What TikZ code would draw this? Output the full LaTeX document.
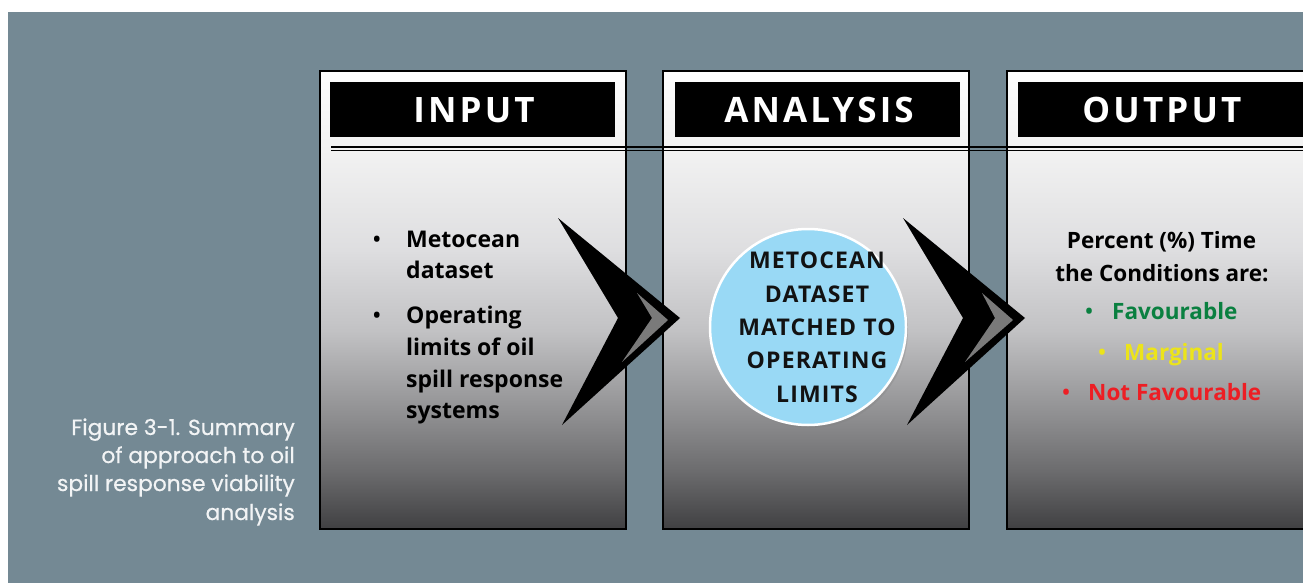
\documentclass[tikz,border=0pt]{standalone}
\usepackage{fontspec}
\setmainfont{Open Sans}
\newfontfamily\capfont{Poppins}[FakeBold=0.6]
\newfontfamily\titlefont{Open Sans}[LetterSpace=9]
\newfontfamily\circfont{Open Sans}[LetterSpace=5]
\usetikzlibrary{shadows}
\definecolor{bgslate}{RGB}{116,137,148}
\definecolor{sh0}{RGB}{64,64,66}
\definecolor{sh1}{RGB}{108,108,110}
\definecolor{sh2}{RGB}{140,140,142}
\definecolor{sh3}{RGB}{194,194,196}
\definecolor{sh4}{RGB}{222,222,224}
\definecolor{sh5}{RGB}{242,242,242}
\definecolor{sh6}{RGB}{253,253,253}
\definecolor{circblue}{RGB}{153,217,245}
\definecolor{favgreen}{RGB}{10,128,64}
\definecolor{margyellow}{RGB}{236,228,26}
\definecolor{notred}{RGB}{237,30,36}
\definecolor{chevgray}{RGB}{122,122,122}
\definecolor{captxt}{RGB}{242,244,245}
\pgfdeclareverticalshading{boxshade}{100bp}{color(0bp)=(sh0); color(25bp)=(sh0); color(31.4bp)=(sh1); color(36.9bp)=(sh2); color(46.7bp)=(sh3); color(55.5bp)=(sh4); color(66.4bp)=(sh5); color(75bp)=(sh6); color(100bp)=(sh6)}
\tikzset{
  panel/.style={draw=black, line width=2pt, shading=boxshade},
  titlebar/.style={fill=black, draw=none},
  titletxt/.style={inner sep=0pt, anchor=base, text=white, font=\titlefont\bfseries\fontsize{35}{40}\selectfont},
  bodytxt/.style={inner sep=0pt, anchor=base west, text=black, font=\bfseries\fontsize{23}{28}\selectfont},
  bullet/.style={inner sep=0pt, anchor=base, font=\bfseries\fontsize{20}{24}\selectfont},
  circtxt/.style={inner sep=0pt, anchor=base, text=black!93, font=\circfont\bfseries\fontsize{23}{27}\selectfont},
  outtxt/.style={inner sep=0pt, anchor=base, text=black, font=\bfseries\fontsize{22.5}{27}\selectfont},
  captxtstyle/.style={inner sep=0pt, anchor=base east, text=captxt, font=\capfont\fontsize{21.8}{26}\selectfont},
  chevron/.style={fill=black, draw=none},
  chevbevel/.style={fill=chevgray, draw=none},
  dblline/.style={draw=black, line width=1.4pt}
}
\begin{document}
\begin{tikzpicture}[x=1pt,y=-1pt]
\useasboundingbox (0,0) rectangle (1303,583);
\clip (0,0) rectangle (1303,583);
\fill[white] (0,0) rectangle (1303,583);
\fill[bgslate] (8,12) rectangle (1310,590);
% panels
\path[panel] (320,71) rectangle (626,529);
\path[panel] (663,71) rectangle (969,529);
\path[panel] (1007,71) rectangle (1313,529);
% title bars
\fill[titlebar] (330,82) rectangle (615,137);
\fill[titlebar] (675,82) rectangle (960,137);
\fill[titlebar] (1018,82) rectangle (1310,137);
\node[titletxt] (tin) at (474,123) {INPUT};
\node[titletxt] (tan) at (819,123) {ANALYSIS};
\node[titletxt] (tout) at (1162,123) {OUTPUT};
% double rule
\coordinate (r1a) at (331,146.8);
\coordinate (r1b) at (1303,146.8);
\coordinate (r2a) at (331,150.6);
\coordinate (r2b) at (1303,150.6);
\draw[dblline] (r1a) -- (r1b);
\draw[dblline] (r2a) -- (r2b);
% input text
\node[bullet] (b1) at (377,246) {•};
\node[bodytxt] (i1) at (406,247) {Metocean};
\node[bodytxt] (i2) at (406,278) {dataset};
\node[bullet] (b2) at (377,322) {•};
\node[bodytxt] (i3) at (406,323) {Operating};
\node[bodytxt] (i4) at (406,355) {limits of oil};
\node[bodytxt] (i5) at (406,387) {spill response};
\node[bodytxt] (i6) at (406,418) {systems};
% chevrons
\fill[chevron] (558,218) -- (680,318) -- (562,425) -- (618,318) -- cycle;
\fill[chevbevel] (637,293) -- (668,320) -- (622,362) -- (652,318) -- cycle;
\fill[chevron] (903,218) -- (1025,318) -- (907,425) -- (963,318) -- cycle;
\fill[chevbevel] (982,293) -- (1013,320) -- (965,362) -- (995,318) -- cycle;
% circle
\node[circle, minimum size=196pt, inner sep=0pt, fill=circblue, draw=white, line width=2.5pt,
  drop shadow={opacity=0.3, shadow xshift=2pt, shadow yshift=-3pt}] (circ) at (808,327) {};
\node[circtxt] (c1) at (817,268) {METOCEAN};
\node[circtxt] (c2) at (817,302) {DATASET};
\node[circtxt] (c3) at (817,335) {MATCHED TO};
\node[circtxt] (c4) at (817,368) {OPERATING};
\node[circtxt] (c5) at (817,402) {LIMITS};
% output text
\node[outtxt] (o1) at (1161.5,248) {Percent (\%) Time};
\node[outtxt] (o2) at (1162,281) {the Conditions are:};
\node[bullet, text=favgreen] (ob1) at (1089,318) {•};
\node[bodytxt, text=favgreen, font=\bfseries\fontsize{22.5}{27}\selectfont] (o3) at (1112,319) {Favourable};
\node[bullet, text=margyellow] (ob2) at (1102,359) {•};
\node[bodytxt, text=margyellow, font=\bfseries\fontsize{22.5}{27}\selectfont] (o4) at (1124,360) {Marginal};
\node[bullet, text=notred] (ob3) at (1066,399) {•};
\node[bodytxt, text=notred, font=\bfseries\fontsize{22.5}{27}\selectfont] (o5) at (1088,400) {Not Favourable};
% caption
\node[captxtstyle] (f1) at (295,435) {Figure 3-1. Summary};
\node[captxtstyle] (f2) at (295,463) {of approach to oil};
\node[captxtstyle] (f3) at (295,491) {spill response viability};
\node[captxtstyle] (f4) at (295,520) {analysis};
\end{tikzpicture}
\end{document}
